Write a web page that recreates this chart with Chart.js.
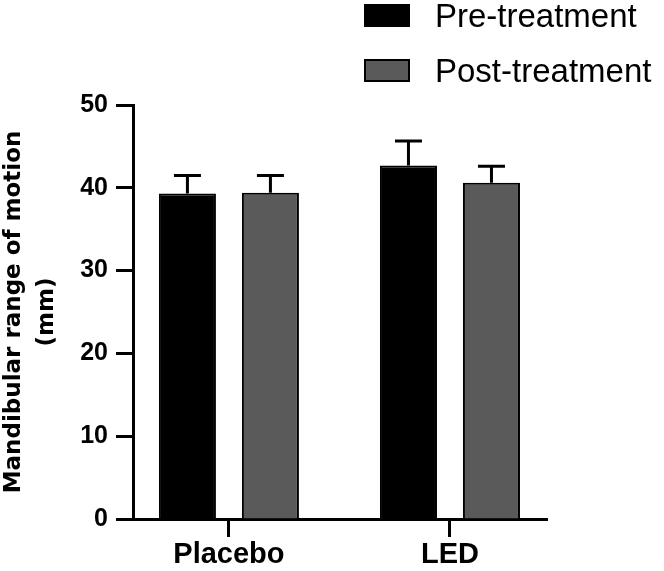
<!DOCTYPE html>
<html>
<head>
<meta charset="utf-8">
<title>Mandibular range of motion</title>
<script src="https://cdn.jsdelivr.net/npm/chart.js@4.4.1/dist/chart.umd.min.js"></script>
<style>
    body { margin: 0; background: #fff; }
    #wrap { position: relative; width: 664px; height: 571px; }
    #legend { position: absolute; left: 364px; top: 0; font-family: 'Liberation Sans', Arial, sans-serif; font-size: 33px; color: #000; }
    .row { position: absolute; left: 0; display: flex; align-items: center; height: 33px; line-height: 33px; white-space: nowrap; }
    .box { width: 42px; height: 19px; border: 2px solid #000; margin-right: 25px; }
</style>
</head>
<body>
<div id="wrap">
    <canvas id="chart"></canvas>
    <div id="legend"></div>
</div>
<script>
const categories = ['Placebo', 'LED']
const seriesNames = ['Pre-treatment', 'Post-treatment']
const preValues = [39.3, 42.7]
const preErrors = [2.2, 2.95]
const postValues = [39.4, 40.6]
const postErrors = [2.1, 2.0]
const yTicks = [0, 10, 20, 30, 40, 50]

const sans = "'Liberation Sans', Arial, sans-serif"

// upward-only SD bars with a cap
const errorBars = {
    id: 'errorBars',
    afterDatasetsDraw(chart) {
        const ctx = chart.ctx
        const yScale = chart.scales.y
        ctx.save()
        ctx.strokeStyle = '#000'
        ctx.lineWidth = 3
        chart.data.datasets.forEach((ds, di) => {
            chart.getDatasetMeta(di).data.forEach((bar, i) => {
                const top = yScale.getPixelForValue(ds.data[i].y + ds.errors[i])
                ctx.beginPath()
                ctx.moveTo(bar.x, bar.y)
                ctx.lineTo(bar.x, top)
                ctx.moveTo(bar.x - 13.5, top)
                ctx.lineTo(bar.x + 13.5, top)
                ctx.stroke()
            })
        })
        ctx.restore()
    }
}

const chart = new Chart(document.getElementById('chart'), {
    type: 'bar',
    data: {
        datasets: [
            {
                label: seriesNames[0],
                data: preValues.map((v, i) => ({ x: i, y: v })),
                errors: preErrors,
                backgroundColor: '#000000',
                borderColor: '#000000',
                borderWidth: 2
            },
            {
                label: seriesNames[1],
                data: postValues.map((v, i) => ({ x: i, y: v })),
                errors: postErrors,
                backgroundColor: '#5a5a5a',
                borderColor: '#000000',
                borderWidth: 2
            }
        ]
    },
    options: {
        responsive: true,
        maintainAspectRatio: false,
        animation: false,
        categoryPercentage: 0.751,
        barPercentage: 0.687,
        layout: { padding: { top: 105, right: 117, bottom: 0, left: 0 } },
        plugins: {
            legend: { display: false },
            tooltip: { enabled: false }
        },
        scales: {
            x: {
                type: 'linear',
                min: -0.434,
                max: 1.439,
                offset: false,
                afterBuildTicks: s => { s.ticks = categories.map((c, i) => ({ value: i })) },
                afterFit: s => { s.height = 52 },
                ticks: {
                    callback: v => categories[v],
                    font: { family: sans, size: 29, weight: 'bold', lineHeight: 1 },
                    color: '#000',
                    padding: 3.5,
                    maxRotation: 0,
                    autoSkip: false
                },
                grid: { drawOnChartArea: false, offset: false, tickLength: 18, tickWidth: 3, tickColor: '#000' },
                border: { color: '#000', width: 3 }
            },
            y: {
                min: 0,
                max: 50,
                afterBuildTicks: s => { s.ticks = yTicks.map(v => ({ value: v })) },
                afterFit: s => { s.width = 133 },
                ticks: {
                    font: { family: sans, size: 25, weight: 'bold' },
                    color: '#000',
                    padding: 8
                },
                grid: { drawOnChartArea: false, tickLength: 17, tickWidth: 3, tickColor: '#000' },
                border: { color: '#000', width: 3 },
                title: {
                    display: true,
                    text: ['Mandibular range of motion', '(mm)'],
                    font: { family: "'DejaVu Sans', sans-serif", size: 23, weight: 'bold', lineHeight: 32.5 / 23 },
                    color: '#000',
                    padding: { top: -2, bottom: 17 }
                }
            }
        }
    },
    plugins: [errorBars]
})

// legend built from the datasets, stacked at top right
const legend = document.getElementById('legend')
const rowTops = [-1, 54]
chart.data.datasets.forEach((ds, i) => {
    const row = document.createElement('div')
    row.className = 'row'
    row.style.top = rowTops[i] + 'px'
    const box = document.createElement('span')
    box.className = 'box'
    box.style.background = ds.backgroundColor
    const txt = document.createElement('span')
    txt.textContent = ds.label
    row.appendChild(box)
    row.appendChild(txt)
    legend.appendChild(row)
})
</script>
</body>
</html>
